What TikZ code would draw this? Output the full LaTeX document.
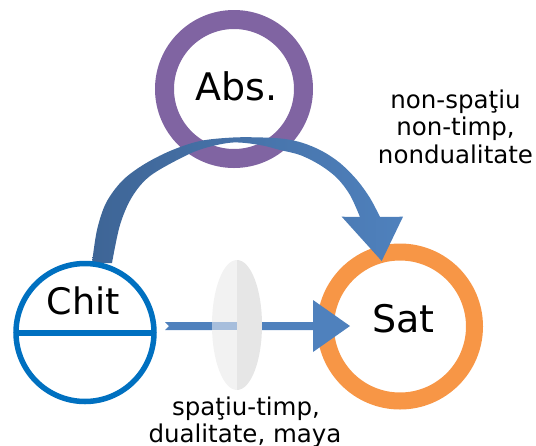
\documentclass[tikz,border=0pt]{standalone}
\usepackage{fontspec}
\setmainfont{DejaVu Sans}
\usetikzlibrary{shapes.geometric}
\definecolor{absc}{HTML}{8064A2}
\definecolor{chitc}{HTML}{0070C0}
\definecolor{satc}{HTML}{F79646}
\definecolor{arrc}{HTML}{4F81BD}
\definecolor{arrdark}{HTML}{3E6596}
\definecolor{lensl}{HTML}{F2F2F2}
\definecolor{lensr}{HTML}{E6E6E6}
\definecolor{lensblue}{HTML}{A7BEDC}
\tikzset{
  ring/.style={circle, inner sep=0pt, outer sep=0pt},
  bigtext/.style={anchor=base, inner sep=0pt, font=\fontsize{38}{40}\selectfont},
  smalltext/.style={anchor=base, inner sep=0pt, font=\fontsize{24.5}{27}\selectfont},
}
\begin{document}
\begin{tikzpicture}[x=1pt,y=-1pt]
\useasboundingbox (0,0) rectangle (536,445);
\clip (0,0) rectangle (536,445);
% rings
\node[ring, draw=absc, line width=19pt, minimum size=139pt] (abs) at (234,89) {};
\node[ring, draw=satc, line width=17pt, minimum size=149pt] (sat) at (400,326.5) {};
% curved arrow
\path[left color=arrdark, right color=arrc]
  plot[smooth, tension=0.55] coordinates {(92,263) (97,230) (106,203) (122,181) (143,165) (170,151) (200,141) (233,137.5) (263,137.5) (285,139) (303,143) (322,151) (340,163) (357,180) (370,198) (380,217)}
  -- (403,216.7) -- (381.7,261) -- (341.7,216.7)
  -- plot[smooth, tension=0.55] coordinates {(360,217) (350,195) (337,178) (320,165) (300,155) (280,150) (260,145) (233,142.5) (205,148) (183,157) (150,176) (132,197) (120,225) (112,263)}
  -- cycle;
% straight arrow
\coordinate (tail) at (165,322);
\coordinate (tip) at (350,326);
\fill[arrc] (tail) -- (313,322) -- (313,300) -- (tip) -- (313,352) -- (313,330) -- (165,330) -- (169,326) -- cycle;
% lens
\node[ellipse, minimum width=50pt, minimum height=130pt, inner sep=0pt] (lens) at (237,325) {};
\begin{scope}
  \clip (237,325) ellipse [x radius=25, y radius=65];
  \fill[lensl] (200,250) rectangle (237,400);
  \fill[lensr] (237,250) rectangle (270,400);
  \fill[lensblue] (200,322) rectangle (237,330);
\end{scope}
% chit
\node[ring, draw=chitc, line width=5.5pt, minimum size=138pt] (chit) at (85,332.5) {};
\draw[chitc, line width=6pt] (chit.west) -- (chit.east);
% texts
\node[bigtext] (abst) at (236.5,100) {Abs.};
\node[bigtext, font=\fontsize{36.5}{40}\selectfont] (chitt) at (83.5,314) {Chit};
\node[bigtext] (satt) at (403.5,332) {Sat};
\node[smalltext] (n1) at (455.5,108) {non-spaţiu};
\node[smalltext] (n2) at (455.5,135.5) {non-timp,};
\node[smalltext] (n3) at (455.5,163) {nondualitate};
\node[smalltext] (s1) at (246,415) {spaţiu-timp,};
\node[smalltext] (s2) at (245,442) {dualitate, maya};
\end{tikzpicture}
\end{document}
